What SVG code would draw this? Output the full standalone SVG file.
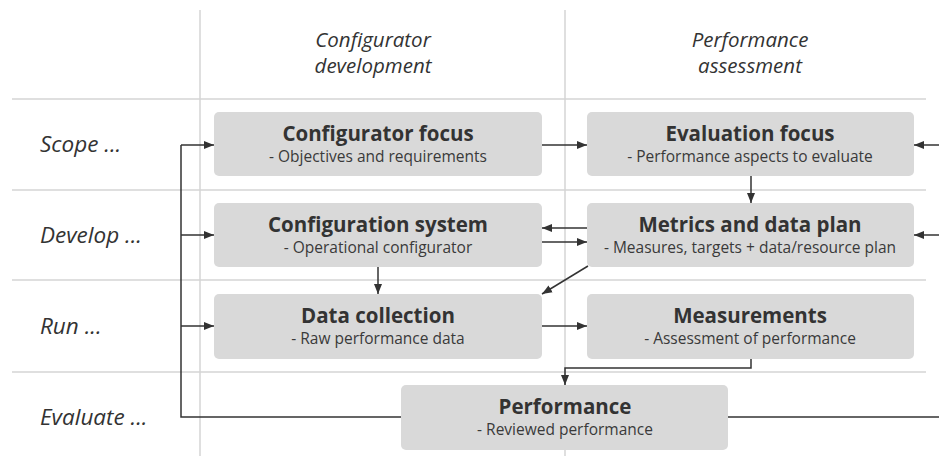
<svg xmlns="http://www.w3.org/2000/svg" width="939" height="456" viewBox="0 0 939 456">
<style>
.grid{stroke:#d4d4d4;stroke-width:1.5;fill:none}
.box{fill:#d9d9d9}
.t{font-family:"Open Sans","Noto Sans",sans-serif;font-weight:bold;font-size:20.5px;fill:#333;text-anchor:middle}
.s{font-family:"Open Sans","Noto Sans",sans-serif;font-size:15.5px;fill:#3a3a3a;text-anchor:middle}
.h{font-family:"Open Sans","Noto Sans",sans-serif;font-style:italic;font-size:20.5px;fill:#333}
.r{font-family:"Open Sans","Noto Sans",sans-serif;font-style:italic;font-size:22.5px;fill:#333}
.c{stroke:#333;stroke-width:1.5;fill:none}
.a{marker-end:url(#ah)}
</style>
<defs>
<marker id="ah" viewBox="0 0 10 10" refX="10" refY="5" markerWidth="10" markerHeight="10" markerUnits="userSpaceOnUse" orient="auto">
<path d="M0,1 L10,5 L0,9 Z" fill="#333"/>
</marker>
</defs>
<g id="grid">
<line class="grid" x1="200" y1="10" x2="200" y2="456"/>
<line class="grid" x1="565" y1="10" x2="565" y2="456"/>
<line class="grid" x1="12" y1="99" x2="926" y2="99"/>
<line class="grid" x1="12" y1="190" x2="926" y2="190"/>
<line class="grid" x1="12" y1="280" x2="926" y2="280"/>
<line class="grid" x1="12" y1="372" x2="926" y2="372"/>
</g>
<g id="headers">
<text class="h" x="373" y="47" text-anchor="middle">Configurator</text>
<text class="h" x="373" y="73" text-anchor="middle">development</text>
<text class="h" x="750" y="47" text-anchor="middle">Performance</text>
<text class="h" x="750" y="73" text-anchor="middle">assessment</text>
<text class="r" x="40" y="152">Scope ...</text>
<text class="r" x="40" y="243">Develop ...</text>
<text class="r" x="40" y="334">Run ...</text>
<text class="r" x="40" y="425">Evaluate ...</text>
</g>
<g id="connectors">
<polyline class="c" points="401,417 181,417 181,145"/>
<line class="c a" x1="181" y1="145" x2="214" y2="145"/>
<line class="c a" x1="181" y1="235" x2="214" y2="235"/>
<line class="c a" x1="181" y1="326" x2="214" y2="326"/>
<line class="c" x1="728" y1="417" x2="939" y2="417"/>
<line class="c a" x1="939" y1="145" x2="914" y2="145"/>
<line class="c a" x1="939" y1="235" x2="914" y2="235"/>
<line class="c a" x1="542" y1="145" x2="587" y2="145"/>
<line class="c a" x1="751" y1="176" x2="751" y2="203"/>
<line class="c a" x1="587" y1="228" x2="542" y2="228"/>
<line class="c a" x1="542" y1="242" x2="587" y2="242"/>
<line class="c a" x1="378" y1="267" x2="378" y2="294"/>
<line class="c a" x1="588" y1="266" x2="542" y2="294"/>
<line class="c a" x1="542" y1="326" x2="587" y2="326"/>
<polyline class="c a" points="751,359 751,368 565,368 565,385"/>
</g>
<g id="configurator-focus">
<rect class="box" x="214" y="112" width="328" height="64" rx="5"/>
<text class="t" x="378" y="141">Configurator focus</text>
<text class="s" x="378" y="162">- Objectives and requirements</text>
</g>
<g id="evaluation-focus">
<rect class="box" x="587" y="112" width="327" height="64" rx="5"/>
<text class="t" x="750" y="141">Evaluation focus</text>
<text class="s" x="750" y="162">- Performance aspects to evaluate</text>
</g>
<g id="configuration-system">
<rect class="box" x="214" y="203" width="328" height="64" rx="5"/>
<text class="t" x="378" y="232">Configuration system</text>
<text class="s" x="378" y="253">- Operational configurator</text>
</g>
<g id="metrics">
<rect class="box" x="587" y="203" width="327" height="64" rx="5"/>
<text class="t" x="750" y="232">Metrics and data plan</text>
<text class="s" x="750" y="253">- Measures, targets + data/resource plan</text>
</g>
<g id="data-collection">
<rect class="box" x="214" y="294" width="328" height="65" rx="5"/>
<text class="t" x="378" y="323">Data collection</text>
<text class="s" x="378" y="344">- Raw performance data</text>
</g>
<g id="measurements">
<rect class="box" x="587" y="294" width="327" height="65" rx="5"/>
<text class="t" x="750" y="323">Measurements</text>
<text class="s" x="750" y="344">- Assessment of performance</text>
</g>
<g id="performance">
<rect class="box" x="401" y="385" width="327" height="65" rx="5"/>
<text class="t" x="565" y="414">Performance</text>
<text class="s" x="565" y="435">- Reviewed performance</text>
</g>
</svg>
